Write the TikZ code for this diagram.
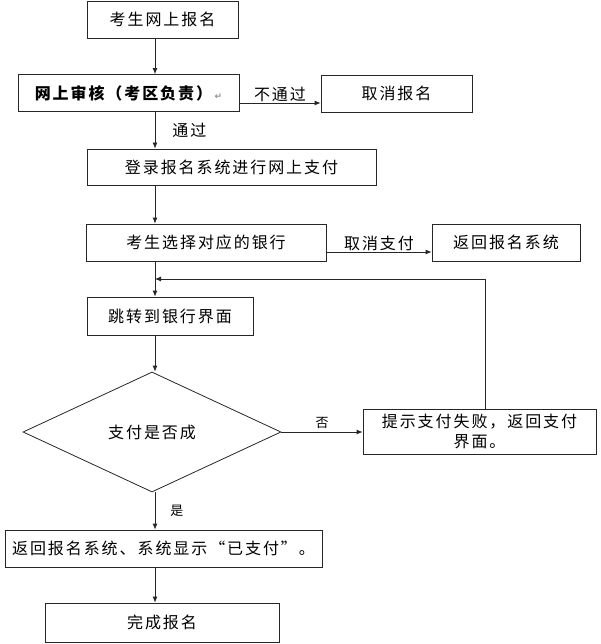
\documentclass[tikz,border=0pt]{standalone}
\usepackage{fontspec}
\setmainfont{Noto Sans CJK SC}[LetterSpace=12]
\newfontfamily\symfont{DejaVu Sans}
\usetikzlibrary{shapes.geometric,arrows.meta}
\begin{document}
\begin{tikzpicture}[x=1pt,y=-1pt,
  box/.style={draw=black!85,line width=.8pt,inner sep=0pt,minimum height=37pt,font=\fontsize{16}{20}\selectfont},
  arr/.style={draw=black!85,line width=.8pt,-{Latex[length=6pt,width=5pt]}},
  lab/.style={font=\fontsize{16}{20}\selectfont,inner sep=1pt},
  small/.style={font=\fontsize{13}{15}\selectfont,inner sep=1pt}]
\useasboundingbox (0,0) rectangle (600,644);
\coordinate (sx) at (155,0);
\coordinate (fb) at (485,279);
\node[box,minimum width=151pt] (b1) at (162.5,19.5) {考生网上报名};
\node[box,minimum width=221pt] (b2) at (128.5,93) {\bfseries 网上审核（考区负责）\,{\symfont\color{black!45}\fontsize{9}{10}\selectfont ↵}};
\node[box,minimum width=151pt] (b4) at (396.5,93.5) {取消报名};
\node[box,minimum width=289pt,minimum height=36pt] (b3) at (231.5,167) {登录报名系统进行网上支付};
\node[box,minimum width=240pt] (b5) at (206,242.5) {考生选择对应的银行};
\node[box,minimum width=148pt] (b6) at (506,242.5) {返回报名系统};
\node[box,minimum width=166pt,minimum height=38pt] (b7) at (170,316) {跳转到银行界面};
\node[box,diamond,minimum width=258pt,minimum height=120pt] (dia) at (152,432) {支付是否成};
\node[box,minimum width=233pt,minimum height=45pt,align=center] (b9) at (479.5,431.5) {提示支付失败，返回支付\\界面。};
\node[box,minimum width=317pt] (b8) at (163.5,548.5) {返回报名系统、系统显示“已支付”。};
\node[box,minimum width=234pt,minimum height=39pt] (b10) at (162,622.5) {完成报名};
\draw[arr] (b1.south -| sx) -- (b2.north -| sx);
\draw[arr] (b2.south -| sx) -- node[lab,right=16pt] {通过} (b3.north -| sx);
\draw[arr] ([yshift=-10pt]b2.east) -- node[lab,above] {不通过} ([yshift=-10pt]b2.east -| b4.west);
\draw[arr] (b3.south -| sx) -- (b5.north -| sx);
\draw[arr] ([yshift=-9.5pt]b5.east) -- node[lab,above] {取消支付} ([yshift=-9.5pt]b5.east -| b6.west);
\draw[arr] (b5.south -| sx) -- (b7.north -| sx);
\draw[arr] (b7.south -| sx) -- (dia.north -| sx);
\draw[arr] (dia.east) -- node[small,above=2pt] {否} (dia.east -| b9.west);
\draw[arr] (b9.north -| fb) -- (fb) -- (fb -| sx);
\draw[arr] (dia.south -| sx) -- node[small,right=14pt] {是} (b8.north -| sx);
\draw[arr] (b8.south -| sx) -- (b10.north -| sx);
\end{tikzpicture}
\end{document}
